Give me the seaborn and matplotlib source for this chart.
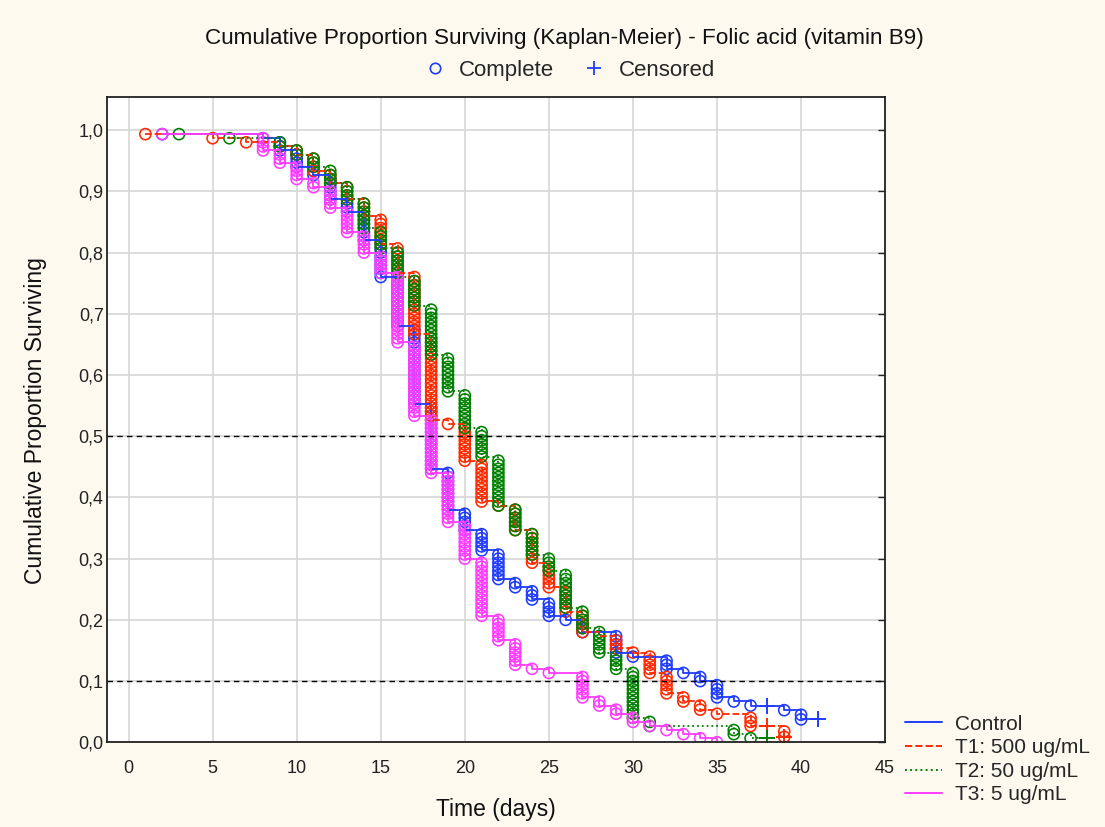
import matplotlib
matplotlib.use("Agg")
import matplotlib.pyplot as plt
import numpy as np
import pandas as pd
import seaborn as sns
from matplotlib.lines import Line2D

N = 150

groups = ["Control", "T1: 500 ug/mL", "T2: 50 ug/mL", "T3: 5 ug/mL"]
colors = ["#1f3cff", "#ff2a00", "#008000", "#ff3cff"]
styles = ["-", "--", ":", "-"]

# deaths per day
ctrl_days = [2, 8, 9, 10, 11, 12, 13, 14, 15, 16, 17, 18, 19, 20, 21, 22, 23, 24, 25, 26, 27, 29, 30, 32, 33, 34, 35, 36, 37, 39, 40]
ctrl_deaths = [1, 1, 3, 4, 2, 6, 3, 7, 9, 12, 19, 16, 10, 5, 5, 7, 2, 3, 4, 1, 3, 5, 1, 3, 1, 2, 4, 1, 1, 1, 2]
ctrl_cens_days = [38, 41]
ctrl_cens = [1, 5]

t1_days = [1, 5, 7, 9, 10, 11, 12, 13, 14, 15, 16, 17, 18, 19, 20, 21, 22, 23, 24, 25, 26, 27, 28, 29, 30, 31, 32, 33, 34, 35, 37, 39]
t1_deaths = [1, 1, 1, 1, 2, 4, 3, 4, 4, 7, 7, 15, 21, 1, 9, 10, 1, 6, 8, 6, 6, 5, 1, 3, 1, 5, 5, 2, 2, 1, 3, 2]
t1_cens_days = [38, 39]
t1_cens = [1, 1]

t2_days = [3, 6, 9, 10, 11, 12, 13, 14, 15, 16, 17, 18, 19, 20, 21, 22, 23, 24, 25, 26, 27, 28, 29, 30, 31, 36, 37]
t2_deaths = [1, 1, 2, 2, 3, 4, 4, 7, 5, 7, 7, 12, 9, 9, 7, 12, 6, 6, 4, 9, 5, 6, 4, 12, 2, 2, 1]
t2_cens_days = [38]
t2_cens = [1]

t3_days = [2, 8, 9, 10, 11, 12, 13, 14, 15, 16, 17, 18, 19, 20, 21, 22, 23, 24, 25, 27, 28, 29, 30, 31, 32, 33, 34, 35]
t3_deaths = [1, 4, 3, 4, 2, 5, 6, 5, 5, 17, 18, 14, 12, 9, 14, 6, 6, 1, 1, 6, 2, 2, 2, 1, 1, 1, 1, 1]
t3_cens_days = []
t3_cens = []

y_labels = ["0,0", "0,1", "0,2", "0,3", "0,4", "0,5", "0,6", "0,7", "0,8", "0,9", "1,0"]


def kaplan_meier(days, deaths, cens_days, cens, n):
    dd = dict(zip(days, deaths))
    cc = dict(zip(cens_days, cens))
    s = 1.0
    at_risk = n
    step, dots, plus = [], [], []
    for t in sorted(set(days) | set(cens_days)):
        for k in range(dd.get(t, 0)):
            s *= (at_risk - 1) / at_risk
            at_risk -= 1
            dots.append((t, s))
        if t in dd:
            step.append((t, s))
        if t in cc:
            at_risk -= cc[t]
            plus.append((t, s))
    step.append((t, s))
    mk = lambda p: pd.DataFrame(p, columns=["t", "s"])
    return mk(step), mk(dots), mk(plus)


data = [
    (ctrl_days, ctrl_deaths, ctrl_cens_days, ctrl_cens),
    (t1_days, t1_deaths, t1_cens_days, t1_cens),
    (t2_days, t2_deaths, t2_cens_days, t2_cens),
    (t3_days, t3_deaths, t3_cens_days, t3_cens),
]

sns.set_style("white")
plt.rcParams["font.family"] = ["Liberation Sans", "DejaVu Sans"]

fig = plt.figure(figsize=(11.05, 8.27), dpi=100, facecolor="#fdf9ee")
ax = fig.add_axes([0.097, 0.1024, 0.704, 0.7803])
ax.set_facecolor("white")

for (d, de, cd, c), col, ls in zip(data, colors, styles):
    step, dots, plus = kaplan_meier(d, de, cd, c, N)
    sns.lineplot(data=step, x="t", y="s", drawstyle="steps-post", estimator=None,
                 sort=False, color=col, linestyle=ls, lw=1.3, ax=ax)
    sns.scatterplot(data=dots, x="t", y="s", marker="o", s=64, facecolors="none",
                    edgecolor=col, linewidth=1.15, ax=ax)
    if len(plus):
        sns.scatterplot(data=plus, x="t", y="s", marker="+", s=140, color=col,
                        linewidth=1.4, ax=ax)

ax.axhline(0.5, color="black", lw=1.0, ls=(0, (4, 3)))
ax.axhline(0.1, color="black", lw=1.0, ls=(0, (4, 3)))

ax.set_xlim(-1.27, 45)
ax.set_ylim(0, 1.054)
ax.set_xticks(np.arange(0, 46, 5))
ax.set_yticks(np.arange(0, 1.01, 0.1))
ax.set_yticklabels(y_labels)
ax.grid(True, color="#d9d9d9", lw=1.3)
ax.set_axisbelow(True)
ax.tick_params(direction="in", length=5, width=1, right=True, labelsize=13,
               colors="#222222")
ax.tick_params(axis="y", pad=2.5)
ax.tick_params(axis="x", pad=13)
for sp in ax.spines.values():
    sp.set_color("#222222")
    sp.set_linewidth(1.3)
ax.set_xlabel("")
ax.set_ylabel("")

fig.text(0.511, 0.954, "Cumulative Proportion Surviving (Kaplan-Meier) - Folic acid (vitamin B9)",
         ha="center", va="center", fontsize=16.2, color="#111111")
fig.text(0.449, 0.021, "Time (days)", ha="center", va="center", fontsize=16.5,
         color="#111111")
fig.text(0.032, 0.492, "Cumulative Proportion Surviving", ha="center", va="center",
         rotation=90, fontsize=16.5, color="#111111")

top_handles = [
    Line2D([], [], ls="none", marker="o", mfc="none", mec=colors[0], ms=7.5, mew=1.2),
    Line2D([], [], ls="none", marker="+", color=colors[0], ms=10, mew=1.3),
]
fig.legend(top_handles, ["Complete", "Censored"], loc="center", bbox_to_anchor=(0.512, 0.915),
           ncol=2, frameon=False, prop={"size": 16},
           handletextpad=0.3, columnspacing=1.0, handlelength=1.6)

side_handles = [Line2D([], [], color=c, ls=s, lw=1.4) for c, s in zip(colors, styles)]
fig.legend(side_handles, groups, loc="center left", bbox_to_anchor=(0.819, 0.0816),
           frameon=False, prop={"size": 15}, handlelength=1.8, handletextpad=0.6,
           labelspacing=0.22, borderpad=0, borderaxespad=0)

fig.savefig("out.png", dpi=100, facecolor=fig.get_facecolor())
